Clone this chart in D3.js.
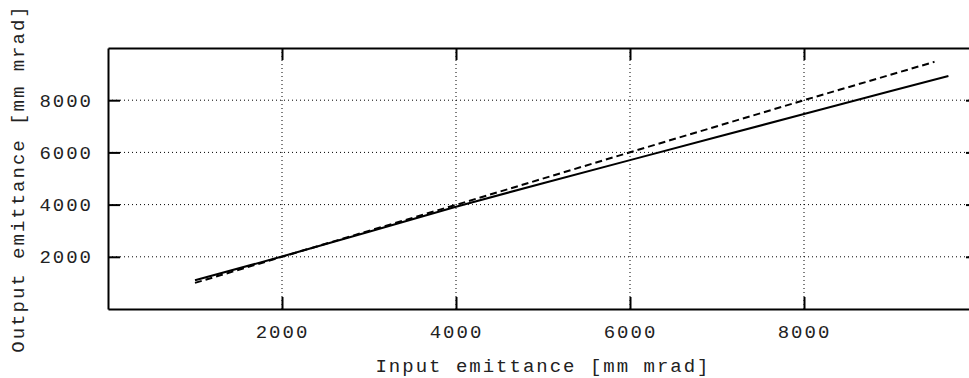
<!DOCTYPE html>
<html>
<head>
<meta charset="utf-8">
<script src="https://cdn.jsdelivr.net/npm/d3@7"></script>
<style>
  body { margin: 0; background: #fff; }
  text { font-family: "Liberation Mono", "Courier New", monospace; fill: #222; }
</style>
</head>
<body>
<div id="chart"></div>
<script>
const SIZE = { width: 969, height: 378 };
const MARGIN = { left: 108, top: 48, right: -9, bottom: 69 };

// solid curve
const solidX = [1000, 2000, 3000, 4000, 5000, 6000, 7000, 8000, 9000, 9660];
const solidY = [1100, 2010, 2960, 3920, 4820, 5705, 6590, 7470, 8350, 8930];
// dashed curve
const dashX = [1000, 2000, 4000, 6000, 8000, 9500];
const dashY = [1000, 2000, 3990, 6005, 8000, 9470];

const xTicks = [2000, 4000, 6000, 8000];
const yTicks = [2000, 4000, 6000, 8000];
const xLabel = "Input emittance [mm mrad]";
const yLabel = "Output emittance [mm mrad]";

const FONT_SIZE = 19, SPACING = 2;

const svg = d3.select("#chart").append("svg")
    .attr("width", SIZE.width)
    .attr("height", SIZE.height);

const x = d3.scaleLinear().domain([0, 10000]).range([MARGIN.left, SIZE.width - MARGIN.right]);
const y = d3.scaleLinear().domain([0, 10000]).range([SIZE.height - MARGIN.bottom, MARGIN.top]);

const x0 = x.range()[0], x1 = x.range()[1], y0 = y.range()[0], y1 = y.range()[1];

// grid
svg.append("g").selectAll("line").data(xTicks).enter().append("line")
    .attr("x1", d => x(d)).attr("x2", d => x(d)).attr("y1", y0).attr("y2", y1)
    .attr("stroke", "#000").attr("stroke-width", 1).attr("stroke-dasharray", "1,3");
svg.append("g").selectAll("line").data(yTicks).enter().append("line")
    .attr("x1", x0).attr("x2", x1).attr("y1", d => y(d)).attr("y2", d => y(d))
    .attr("stroke", "#000").attr("stroke-width", 1).attr("stroke-dasharray", "1,3");

// axes with inward ticks
const fmt = d3.format("d");
const axB = svg.append("g").attr("transform", `translate(0,${y0})`)
    .call(d3.axisBottom(x).tickValues(xTicks).tickFormat(fmt).tickSizeInner(-12).tickSizeOuter(0).tickPadding(16));
const axT = svg.append("g").attr("transform", `translate(0,${y1})`)
    .call(d3.axisTop(x).tickValues(xTicks).tickSizeInner(-12).tickSizeOuter(0).tickFormat(""));
const axL = svg.append("g").attr("transform", `translate(${x0},0)`)
    .call(d3.axisLeft(y).tickValues(yTicks).tickFormat(fmt).tickSizeInner(-12).tickSizeOuter(0).tickPadding(15));
const axR = svg.append("g").attr("transform", `translate(${x1},0)`)
    .call(d3.axisRight(y).tickValues(yTicks).tickSizeInner(-12).tickSizeOuter(0).tickFormat(""));

[axB, axT, axL, axR].forEach(a => {
  a.select(".domain").attr("stroke", "#000").attr("stroke-width", 2);
  a.selectAll(".tick line").attr("stroke", "#000").attr("stroke-width", 2);
  a.selectAll(".tick text").attr("font-size", FONT_SIZE).attr("letter-spacing", SPACING)
    .attr("font-family", "Liberation Mono").attr("fill", "#222");
});

// curves
const line = d3.line().x(d => x(d[0])).y(d => y(d[1]));
svg.append("path").datum(d3.zip(solidX, solidY))
    .attr("d", line).attr("fill", "none").attr("stroke", "#000").attr("stroke-width", 2);
svg.append("path").datum(d3.zip(dashX, dashY))
    .attr("d", line).attr("fill", "none").attr("stroke", "#000").attr("stroke-width", 2)
    .attr("stroke-dasharray", "7,4");

// labels
svg.append("text").attr("x", (x0 + x1) / 2).attr("y", 372)
    .attr("text-anchor", "middle").attr("font-size", FONT_SIZE).attr("letter-spacing", SPACING).text(xLabel);
svg.append("text").attr("transform", `translate(24,${(y0 + y1) / 2}) rotate(-90)`)
    .attr("text-anchor", "middle").attr("font-size", FONT_SIZE).attr("letter-spacing", SPACING).text(yLabel);
</script>
</body>
</html>
